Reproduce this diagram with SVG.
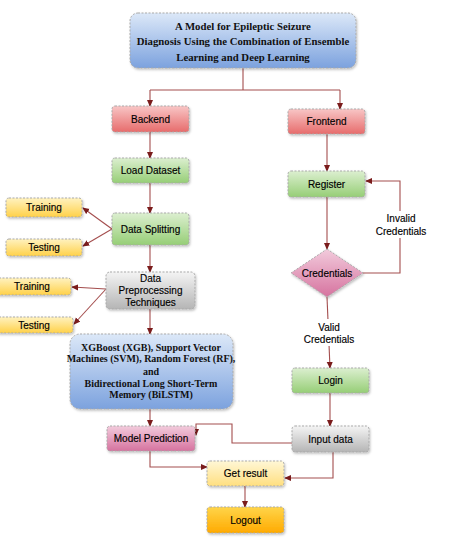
<svg xmlns="http://www.w3.org/2000/svg" width="465" height="538" viewBox="0 0 465 538">
<defs>
<linearGradient id="gBlue" x1="0" y1="0" x2="0" y2="1"><stop offset="0" stop-color="#dce8f8"/><stop offset="1" stop-color="#7ca2de"/></linearGradient>
<linearGradient id="gRed" x1="0" y1="0" x2="0" y2="1"><stop offset="0" stop-color="#f8c6c6"/><stop offset="1" stop-color="#e76c6c"/></linearGradient>
<linearGradient id="gGreen" x1="0" y1="0" x2="0" y2="1"><stop offset="0" stop-color="#dcefd0"/><stop offset="1" stop-color="#96ce76"/></linearGradient>
<linearGradient id="gYellow" x1="0" y1="0" x2="0" y2="1"><stop offset="0" stop-color="#fff2c0"/><stop offset="1" stop-color="#ffd149"/></linearGradient>
<linearGradient id="gGray" x1="0" y1="0" x2="0" y2="1"><stop offset="0" stop-color="#f4f4f4"/><stop offset="1" stop-color="#b5b5b5"/></linearGradient>
<linearGradient id="gPink" x1="0" y1="0" x2="0" y2="1"><stop offset="0" stop-color="#f2cbdc"/><stop offset="1" stop-color="#d6739f"/></linearGradient>
<linearGradient id="gLight" x1="0" y1="0" x2="0" y2="1"><stop offset="0" stop-color="#fff7d6"/><stop offset="1" stop-color="#ffdf80"/></linearGradient>
<linearGradient id="gOrange" x1="0" y1="0" x2="0" y2="1"><stop offset="0" stop-color="#ffd54a"/><stop offset="1" stop-color="#ffaa00"/></linearGradient>
<filter id="sh" x="-10%" y="-10%" width="130%" height="140%"><feDropShadow dx="1" dy="1.5" stdDeviation="1" flood-color="#000" flood-opacity="0.25"/></filter>
<marker id="arr" viewBox="0 0 8 8" refX="7" refY="4" markerWidth="7" markerHeight="7" markerUnits="userSpaceOnUse" orient="auto"><path d="M0,0.5 L8,4 L0,7.5 Z" fill="#7a1c1c"/></marker>
</defs>
<style>
.box{stroke:#a9a9a9;stroke-width:1;stroke-dasharray:2,1.5;filter:url(#sh)}
.t{font-family:"Liberation Sans",Arial,sans-serif;font-size:10px;fill:#000;stroke:#000;stroke-width:0.15;text-anchor:middle}
.s{font-family:"Liberation Serif","Times New Roman",serif;font-size:10px;font-weight:bold;fill:#111;text-anchor:middle}
.st{font-size:10.75px}
.c{fill:none;stroke:#a44e4e;stroke-width:1.1}
.ca{fill:none;stroke:#a44e4e;stroke-width:1.1;marker-end:url(#arr)}
</style>
<rect width="465" height="538" fill="#fff"/>

<g id="connectors">
<path class="c" d="M243,68 V90 M150,90 H340"/>
<path class="ca" d="M150,90 V106"/>
<path class="ca" d="M340,90 V109"/>
<path class="ca" d="M150,132 V158"/>
<path class="ca" d="M150,183 V213"/>
<path class="ca" d="M112,229 L83,208"/>
<path class="ca" d="M112,229 L83,246"/>
<path class="ca" d="M150,245 V272"/>
<path class="ca" d="M106,289 L72,287"/>
<path class="ca" d="M106,289 L74,324"/>
<path class="ca" d="M150,309 V334"/>
<path class="ca" d="M150,409 V426"/>
<path class="ca" d="M327,134 V171"/>
<path class="ca" d="M327,197 V249"/>
<path class="ca" d="M363,273 H400 V181 H366"/>
<path class="ca" d="M327,297 L330,368"/>
<path class="ca" d="M330,393 V426"/>
<path class="ca" d="M292,443 H232 V424 H196 V435"/>
<path class="ca" d="M150,451 V467 H207"/>
<path class="ca" d="M333,452 V478 H285"/>
<path class="ca" d="M245,486 V507"/>
</g>

<g id="title">
<rect class="box" x="130" y="13" width="226" height="55" rx="8" fill="url(#gBlue)"/>
<text class="s st" x="243" y="29.5">A Model for Epileptic Seizure</text>
<text class="s st" x="243" y="45">Diagnosis Using the Combination of Ensemble</text>
<text class="s st" x="243" y="60.5">Learning and Deep Learning</text>
</g>

<g id="backend"><rect class="box" x="112" y="106" width="77" height="26" rx="3" fill="url(#gRed)"/><text class="t" x="150.5" y="122.5">Backend</text></g>
<g id="frontend"><rect class="box" x="288" y="109" width="77" height="25" rx="3" fill="url(#gRed)"/><text class="t" x="326.5" y="125">Frontend</text></g>
<g id="load-dataset"><rect class="box" x="112" y="158" width="77" height="25" rx="3" fill="url(#gGreen)"/><text class="t" x="150.5" y="174">Load Dataset</text></g>
<g id="data-splitting"><rect class="box" x="112" y="213" width="77" height="32" rx="3" fill="url(#gGreen)"/><text class="t" x="150.5" y="232.5">Data Splitting</text></g>
<g id="training-1"><rect class="box" x="6" y="198" width="76" height="19" rx="3" fill="url(#gYellow)"/><text class="t" x="44" y="211">Training</text></g>
<g id="testing-1"><rect class="box" x="6" y="239" width="76" height="17" rx="3" fill="url(#gYellow)"/><text class="t" x="44" y="251">Testing</text></g>
<g id="preprocessing"><rect class="box" x="106" y="272" width="89" height="37" rx="4" fill="url(#gGray)"/>
<text class="t" x="150.5" y="281.5">Data</text><text class="t" x="150.5" y="293.5">Preprocessing</text><text class="t" x="150.5" y="305.5">Techniques</text></g>
<g id="training-2"><rect class="box" x="-4" y="278" width="75" height="17" rx="3" fill="url(#gYellow)"/><text class="t" x="32" y="290">Training</text></g>
<g id="testing-2"><rect class="box" x="-4" y="317" width="77" height="16" rx="3" fill="url(#gYellow)"/><text class="t" x="34" y="328.5">Testing</text></g>
<g id="models"><rect class="box" x="70" y="334" width="163" height="75" rx="10" fill="url(#gBlue)"/>
<text class="s" x="151" y="350.5">XGBoost (XGB), Support Vector</text>
<text class="s" x="151" y="362">Machines (SVM), Random Forest (RF),</text>
<text class="s" x="151" y="375">and</text>
<text class="s" x="151" y="387">Bidirectional Long Short-Term</text>
<text class="s" x="151" y="398">Memory (BiLSTM)</text></g>
<g id="register"><rect class="box" x="288" y="171" width="77" height="26" rx="3" fill="url(#gGreen)"/><text class="t" x="326.5" y="187.5">Register</text></g>
<g id="credentials"><path class="box" d="M327,249 L363,273 L327,297 L291,273 Z" fill="url(#gPink)" stroke-linejoin="round"/><text class="t" x="327" y="276.5">Credentials</text></g>
<g id="invalid-label"><rect x="372" y="211" width="58" height="27" fill="#fff"/><text class="t" x="401" y="222">Invalid</text><text class="t" x="401" y="234.5">Credentials</text></g>
<g id="valid-label"><rect x="300" y="319" width="58" height="27" fill="#fff"/><text class="t" x="329" y="330.5">Valid</text><text class="t" x="329" y="342.5">Credentials</text></g>
<g id="login"><rect class="box" x="292" y="368" width="77" height="25" rx="3" fill="url(#gGreen)"/><text class="t" x="330.5" y="384">Login</text></g>
<g id="input-data"><rect class="box" x="292" y="426" width="77" height="26" rx="3" fill="url(#gGray)"/><text class="t" x="330.5" y="442.5">Input data</text></g>
<g id="model-prediction"><rect class="box" x="107" y="426" width="88" height="25" rx="3" fill="url(#gPink)"/><text class="t" x="151" y="442">Model Prediction</text></g>
<g id="get-result"><rect class="box" x="207" y="461" width="77" height="25" rx="3" fill="url(#gLight)"/><text class="t" x="245.5" y="477">Get result</text></g>
<g id="logout"><rect class="box" x="207" y="507" width="77" height="26" rx="3" fill="url(#gOrange)"/><text class="t" x="245.5" y="523.5">Logout</text></g>
</svg>
